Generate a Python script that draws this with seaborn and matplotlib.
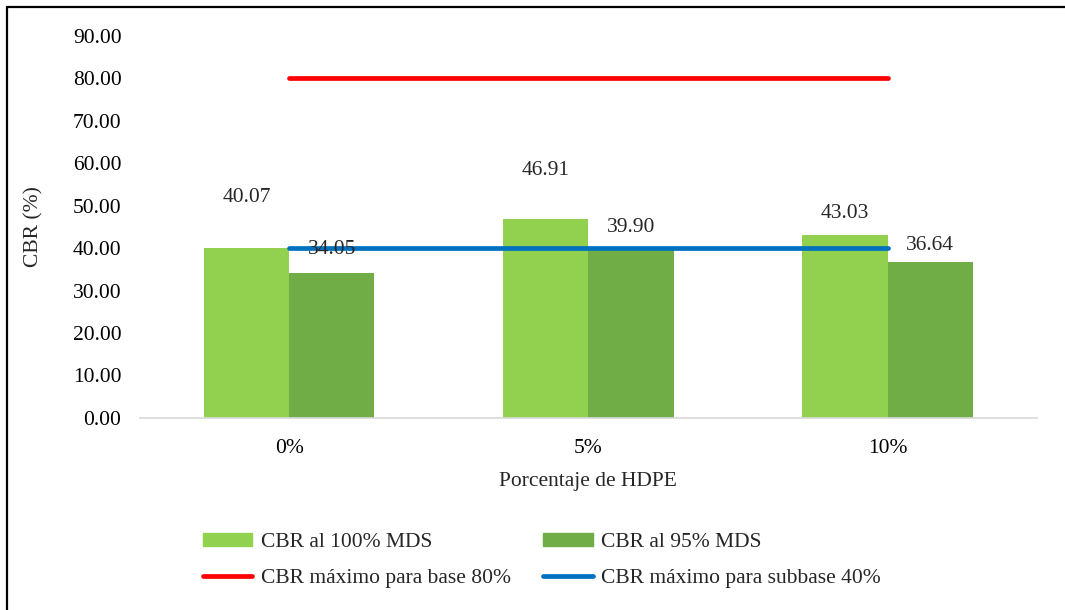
import numpy as np
import pandas as pd
import matplotlib
matplotlib.use("Agg")
import matplotlib.pyplot as plt
import seaborn as sns
from matplotlib.lines import Line2D
from matplotlib.patches import Patch

# data
categorias = ["0%", "5%", "10%"]
cbr_100 = [40.07, 46.91, 43.03]
cbr_95 = [34.05, 39.90, 36.64]
limite_base = [80, 80, 80]
limite_subbase = [40, 40, 40]
series = ["CBR al 100% MDS", "CBR al 95% MDS"]

# label offsets above bar tops (points) - labels were moved by hand in the original
off_100 = [36, 35, 16]
off_95 = [17, 15, 12]

FS = 15.5

sns.set_style("white")
plt.rcParams["font.family"] = ["Liberation Serif", "DejaVu Serif"]
plt.rcParams["font.size"] = FS

df = pd.DataFrame({
    "pct": categorias * 2,
    "cbr": cbr_100 + cbr_95,
    "serie": [series[0]] * 3 + [series[1]] * 3,
})

colores = {series[0]: "#92D050", series[1]: "#70AD47"}

fig = plt.figure(figsize=(10.65, 6.1), dpi=100)
ax = fig.add_axes([0.131, 0.315, 0.843, 0.626])

sns.barplot(data=df, x="pct", y="cbr", hue="serie", palette=colores,
            width=0.57, gap=0, saturation=1, ax=ax, legend=False,
            errorbar=None, linewidth=0)

x = np.arange(len(categorias))
ax.plot(x, limite_base, color="#FF0000", lw=3.4, solid_capstyle="round", zorder=5)
ax.plot(x, limite_subbase, color="#0070C0", lw=3.4, solid_capstyle="round", zorder=5)

# data labels
bw = 0.57 / 2
for i in range(len(categorias)):
    ax.annotate(f"{cbr_100[i]:.2f}", (x[i] - bw / 2, cbr_100[i]),
                xytext=(0, off_100[i]), textcoords="offset points",
                ha="center", va="center", fontsize=FS, zorder=6)
    ax.annotate(f"{cbr_95[i]:.2f}", (x[i] + bw / 2, cbr_95[i]),
                xytext=(0, off_95[i]), textcoords="offset points",
                ha="center", va="center", fontsize=FS, zorder=6)

ax.set_xlim(-0.5, 2.5)
ax.set_ylim(0, 90)
ax.set_yticks(np.arange(0, 91, 10))
ax.yaxis.set_major_formatter(matplotlib.ticker.FormatStrFormatter("%.2f"))
ax.set_xlabel("Porcentaje de HDPE", fontsize=FS, labelpad=10)
ax.set_ylabel("CBR (%)", fontsize=FS, labelpad=21)
ax.tick_params(axis="both", length=0, labelsize=FS, colors="#000000")
ax.tick_params(axis="x", pad=15)
ax.tick_params(axis="y", pad=13)
for s in ["top", "right", "left"]:
    ax.spines[s].set_visible(False)
ax.spines["bottom"].set_color("#D9D9D9")
ax.spines["bottom"].set_linewidth(1.2)

handles = [
    Patch(color=colores[series[0]], label=series[0]),
    Line2D([], [], color="#FF0000", lw=3.4, solid_capstyle="round", label="CBR máximo para base 80%"),
    Patch(color=colores[series[1]], label=series[1]),
    Line2D([], [], color="#0070C0", lw=3.4, solid_capstyle="round", label="CBR máximo para subbase 40%"),
]
fig.legend(handles=handles, loc="center", bbox_to_anchor=(0.509, 0.081), ncol=2,
           frameon=False, fontsize=FS, handlelength=2.3, handleheight=0.6,
           handletextpad=0.4, columnspacing=1.5, labelspacing=0.78)

# outer chart border (left and top visible)
fig.add_artist(Line2D([0.0066, 0.0066], [0, 0.9885], color="black", lw=1.6,
                      transform=fig.transFigure))
fig.add_artist(Line2D([0.0066, 1], [0.9885, 0.9885], color="black", lw=1.6,
                      transform=fig.transFigure))

fig.savefig("out.png", dpi=100)
